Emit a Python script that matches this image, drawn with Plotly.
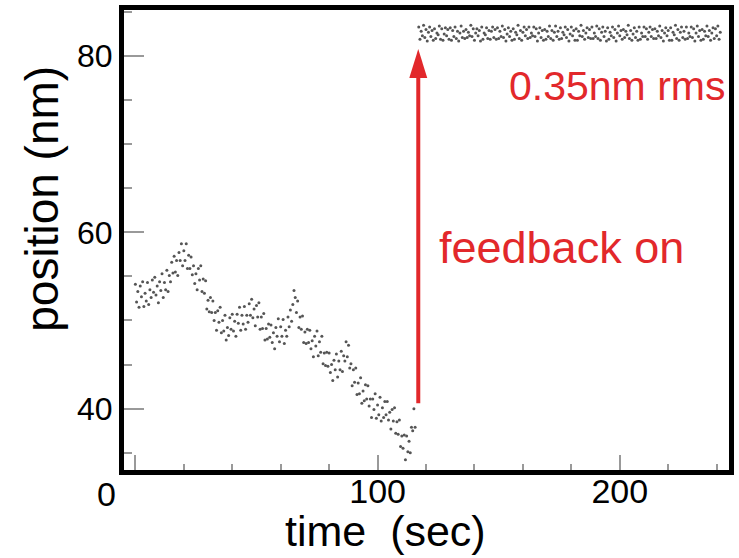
import plotly.graph_objects as go

# drift before feedback, sampled every 0.5 s from t = 0
drift_pos = [
    54.1, 52.1, 53.3, 51.5, 53.9, 52.7, 54.4, 51.6, 53.1, 52.2, 54.3, 51.8, 53.5, 52.6, 54.6, 53.2,
    54.9, 52.9, 53.9, 52.0, 54.4, 53.4, 55.3, 52.6, 54.3, 53.5, 55.7, 53.3, 55.1, 54.4, 56.6, 55.4,
    57.3, 55.5, 56.8, 55.1, 57.7, 56.8, 58.7, 56.2, 57.9, 56.8, 58.7, 55.9, 57.4, 55.9, 57.2, 55.2,
    56.2, 54.2, 55.3, 53.5, 55.9, 54.6, 56.2, 53.3, 54.7, 53.1, 54.5, 51.3, 52.3, 51.0, 52.6, 50.9,
    52.2, 50.0, 50.9, 48.9, 51.1, 49.8, 51.5, 48.6, 50.0, 48.8, 50.6, 47.8, 49.2, 48.3, 50.3, 49.0,
    50.7, 48.8, 49.9, 48.2, 50.7, 49.7, 51.5, 48.9, 50.6, 49.6, 51.6, 49.0, 50.6, 49.8, 51.9, 50.6,
    52.4, 50.3, 51.3, 49.4, 51.7, 50.4, 52.0, 49.0, 50.4, 49.1, 50.8, 47.8, 49.1, 47.9, 49.6, 48.1,
    49.5, 47.5, 48.6, 46.8, 49.2, 48.2, 50.2, 47.6, 49.3, 48.2, 50.1, 47.4, 48.9, 48.2, 50.4, 49.3,
    51.2, 49.9, 51.8, 53.4, 52.6, 50.9, 52.2, 49.2, 50.4, 49.0, 50.5, 47.5, 48.7, 47.4, 49.0, 47.5,
    48.9, 46.8, 47.7, 45.9, 48.2, 47.1, 48.8, 46.0, 47.6, 46.4, 48.2, 45.1, 46.3, 44.9, 46.4, 44.8,
    46.3, 44.1, 45.0, 43.2, 45.5, 44.4, 46.2, 43.6, 45.4, 44.4, 46.5, 44.2, 46.0, 45.4, 47.6, 45.9,
    47.2, 44.6, 45.1, 42.6, 44.4, 43.0, 44.6, 41.6, 42.9, 41.7, 43.5, 40.6, 42.0, 40.9, 42.7, 41.1,
    42.6, 40.3, 41.1, 39.0, 41.1, 39.9, 41.7, 38.9, 40.4, 39.3, 41.3, 38.6, 40.1, 39.0, 40.8, 39.3,
    40.8, 38.7, 39.6, 37.7, 39.9, 38.6, 40.1, 37.2, 38.5, 37.1, 38.7, 35.7, 36.9, 35.5, 37.0, 34.2,
    36.9, 35.1, 36.3, 35.0, 37.9, 37.5, 40.0, 37.9,
]
drift_t = [i * 0.5 for i in range(len(drift_pos))]

# locked position after feedback is switched on, every 0.5 s from t = 117
locked_pos = [
    83.3, 81.9, 82.8, 82.3, 83.5, 82.1, 83.0, 81.7, 82.7, 83.3, 82.2, 82.9, 81.8,
    83.1, 82.0, 82.6, 82.4, 83.4, 81.9, 83.1, 81.8, 82.5, 83.2, 82.3, 83.0, 81.9,
    83.2, 81.8, 82.9, 82.2, 83.3, 82.0, 82.8, 81.7, 82.6, 83.4, 82.1, 82.8, 82.0,
    83.0, 82.1, 82.7, 82.3, 83.5, 82.2, 83.1, 81.8, 82.6, 83.1, 82.3, 82.9, 81.7,
    83.3, 81.9, 82.6, 82.4, 83.2, 82.0, 82.9, 81.9, 82.8, 83.3, 82.1, 83.0, 81.9,
    83.2, 82.0, 82.8, 82.2, 83.4, 82.1, 83.0, 81.7, 82.5, 83.2, 82.2, 82.8, 81.8,
    83.1, 81.9, 82.7, 82.4, 83.5, 82.0, 82.9, 81.8, 82.7, 83.3, 82.3, 83.0, 82.0,
    83.3, 82.1, 82.6, 82.3, 83.3, 82.2, 83.1, 81.7, 82.6, 83.2, 82.1, 82.9, 81.8,
    83.0, 81.9, 82.8, 82.2, 83.4, 82.0, 82.9, 81.8, 82.7, 83.4, 82.2, 82.8, 81.9,
    83.2, 82.0, 82.7, 82.4, 83.3, 82.1, 83.0, 81.7, 82.5, 83.3, 82.3, 82.9, 81.8,
    83.1, 81.8, 82.8, 82.3, 83.5, 82.2, 82.9, 81.9, 82.6, 83.2, 82.1, 83.0, 82.0,
    83.3, 82.0, 82.6, 82.2, 83.4, 82.0, 83.1, 81.8, 82.7, 83.3, 82.2, 82.8, 81.7,
    83.2, 81.9, 82.7, 82.3, 83.3, 82.1, 83.0, 81.7, 82.6, 83.4, 82.3, 82.9, 81.9,
    83.0, 82.1, 82.8, 82.4, 83.5, 82.0, 82.9, 81.8, 82.5, 83.2, 82.1, 82.8, 81.8,
    83.3, 81.9, 82.6, 82.2, 83.3, 82.2, 83.1, 81.9, 82.7, 83.3, 82.2, 83.0, 82.0,
    83.1, 82.0, 82.8, 82.3, 83.4, 82.1, 82.9, 81.7, 82.6, 83.2, 82.3, 82.9, 81.8,
    83.2, 81.8, 82.7, 82.4, 83.5, 82.0, 83.0, 81.8, 82.7, 83.3, 82.1, 82.8, 81.9,
    83.3, 82.0, 82.6, 82.2, 83.3, 82.1, 83.1, 81.7, 82.6, 83.4, 82.2, 82.9, 81.8,
    83.0, 81.9, 82.8, 82.3, 83.4, 82.2, 82.9, 81.8, 82.6, 83.2, 82.0, 83.1, 82.3,
    83.4, 81.9, 82.7,
]
locked_t = [117 + i * 0.5 for i in range(len(locked_pos))]

x_ticks = [0, 100, 200]
y_ticks = [40, 60, 80]

red = '#e2282b'
font = 'Liberation Sans, Arial, sans-serif'

fig = go.Figure()
for t, p in [(drift_t, drift_pos), (locked_t, locked_pos)]:
    fig.add_trace(go.Scatter(
        x=t, y=p, mode='markers',
        marker=dict(color='#555555', size=3),
        hoverinfo='skip',
    ))

# arrow: feedback switched on
fig.add_shape(type='line', x0=116.8, x1=116.8, y0=40.6, y1=77.8,
              line=dict(color=red, width=4))
fig.add_shape(type='path', path='M 113.1,77.5 L 120.5,77.5 L 116.8,80.8 Z',
              fillcolor=red, line=dict(color=red, width=0))

fig.add_annotation(x=153.3, y=76.55, xref='x', yref='y', text='0.35nm rms',
                   showarrow=False, xanchor='left', yanchor='middle',
                   font=dict(size=41, color=red, family=font))
fig.add_annotation(x=124.7, y=58.3, xref='x', yref='y', text='feedback on',
                   showarrow=False, xanchor='left', yanchor='middle',
                   font=dict(size=45, color=red, family=font))

# axis titles and the "0" label that sits outside the frame
fig.add_annotation(x=0.433, y=-0.132, xref='paper', yref='paper', text='time  (sec)',
                   showarrow=False, xanchor='center', yanchor='middle',
                   font=dict(size=43, color='black', family=font))
fig.add_annotation(x=-0.137, y=0.59, xref='paper', yref='paper', text='position (nm)',
                   showarrow=False, textangle=-90, xanchor='center', yanchor='middle',
                   font=dict(size=46, color='black', family=font))
fig.add_annotation(x=-0.0285, y=-0.052, xref='paper', yref='paper', text='0',
                   showarrow=False, xanchor='center', yanchor='middle',
                   font=dict(size=34, color='black', family=font))

fig.update_xaxes(
    range=[-4.7, 245.1], tickvals=x_ticks, ticktext=['', '100', '200'],
    ticks='inside', ticklen=15, tickwidth=1.5, tickcolor='#999',
    minor=dict(ticks='inside', ticklen=6, tickwidth=1.5, tickcolor='#999', dtick=20, tick0=0),
    showline=True, linewidth=5, linecolor='black', mirror=True,
    showgrid=False, zeroline=False, ticklabelstandoff=-13,
    tickfont=dict(size=34, color='black', family=font),
)
fig.update_yaxes(
    range=[33.04, 85.22], tickvals=y_ticks,
    ticks='inside', ticklen=20, tickwidth=1.5, tickcolor='#999',
    minor=dict(ticks='inside', ticklen=8, tickwidth=1.5, tickcolor='#999', dtick=5, tick0=0),
    showline=True, linewidth=5, linecolor='black', mirror=True,
    showgrid=False, zeroline=False,
    tickfont=dict(size=32, color='black', family=font),
)

fig.update_layout(
    width=739, height=558,
    margin=dict(l=124, r=5, t=10, b=88),
    plot_bgcolor='white', paper_bgcolor='white',
    showlegend=False,
    font=dict(family=font),
)

# drop the browser's default body margin so the figure sits at the page corner
fig.write_html('out.html', config={'displayModeBar': False},
               post_script="document.body.style.margin='0';")
